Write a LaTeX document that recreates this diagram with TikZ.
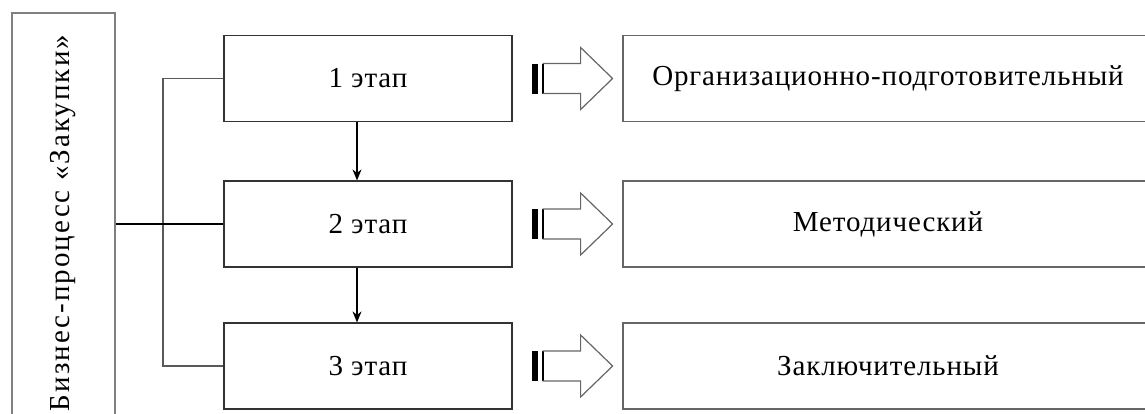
\documentclass[tikz,border=0pt]{standalone}
\usepackage{fontspec}
\setmainfont{Liberation Serif}[LetterSpace=3]
\usetikzlibrary{arrows.meta}

\tikzset{
  stage/.style={draw=black!80, line width=1.2pt, minimum width=288pt, minimum height=86pt},
  result/.style={draw=black!60, line width=1.6pt, minimum width=530pt, minimum height=86pt},
  procbox/.style={draw=black!50, line width=1.2pt, rotate=90, minimum width=420pt, minimum height=103pt},
  link/.style={draw=black!65, line width=1.2pt},
  flow/.style={black, line width=1.2pt, -{Stealth[length=11pt,width=9pt]}},
  fatarrow/.pic={
    \fill[black] (0,-15) rectangle (6,15);
    \draw[line width=2pt] (11,-15) -- (11,15);
    \draw[black!60, line width=1.2pt] (11,-15) -- (49,-15) -- (49,-31) -- (81,0)
      -- (49,31) -- (49,15) -- (11,15);
  }
}

\begin{document}
\begin{tikzpicture}[x=1pt, y=-1pt, every node/.style={font=\fontsize{29}{32}\selectfont}]
  \useasboundingbox (0,0) rectangle (1145,413);

  \node[procbox] (proc) at (63.5,223) {\addfontfeatures{LetterSpace=7}Бизнес-процесс «Закупки»};

  \node[stage] (s1) at (368,78.5) {1 этап};
  \node[stage] (s2) at (368,224) {2 этап};
  \node[stage] (s3) at (368,366) {3 этап};

  \node[result] (r1) at (888,78.5) {Организационно-подготовительный};
  \node[result] (r2) at (888,224) {Методический};
  \node[result] (r3) at (888,366) {Заключительный};

  \draw[flow] ([xshift=-11pt]s1.south) -- ([xshift=-11pt]s2.north);
  \draw[flow] ([xshift=-11pt]s2.south) -- ([xshift=-11pt]s3.north);

  % bracket from the process box to the stages
  \coordinate (bus) at (163,0);
  \draw[link] (s1.west) -- (bus |- s1.west) -- (bus |- s3.west) -- (s3.west);
  \draw[link, black] (proc.south |- s2.west) -- (s2.west);

  \foreach \i in {1,2,3}
    \pic at ([xshift=19pt]s\i.east) {fatarrow};
\end{tikzpicture}
\end{document}
